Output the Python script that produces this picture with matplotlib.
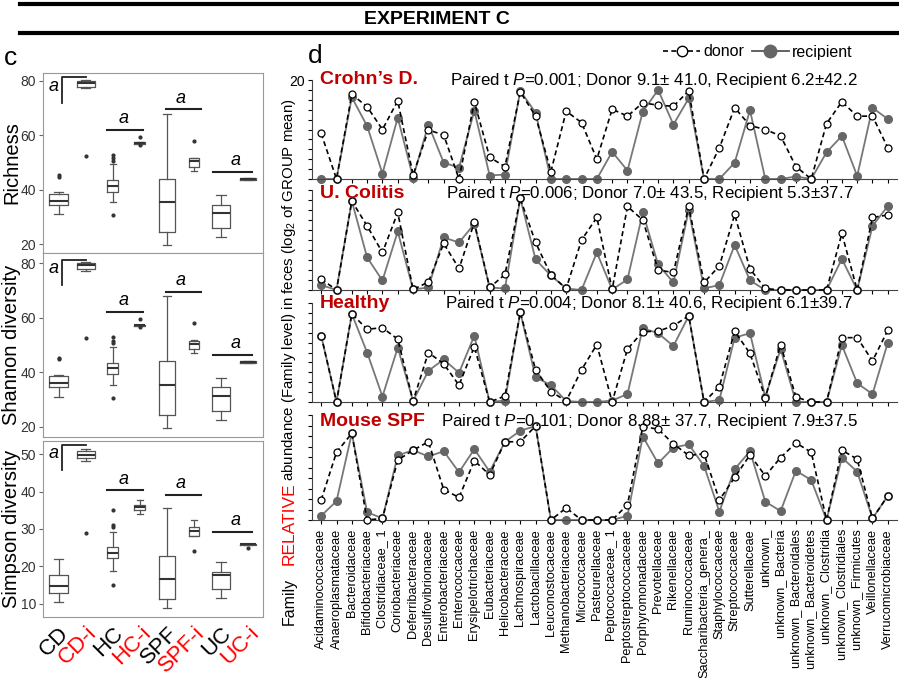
import matplotlib
matplotlib.use("Agg")
import matplotlib.pyplot as plt
from matplotlib.lines import Line2D

plt.rcParams["font.family"] = ["Liberation Sans", "DejaVu Sans"]
plt.rcParams["mathtext.fontset"] = "custom"
plt.rcParams["mathtext.it"] = "Liberation Sans:italic"
plt.rcParams["mathtext.rm"] = "Liberation Sans"

# ---- box plot data (c) ----
groups = ["CD", "CD-i", "HC", "HC-i", "SPF", "SPF-i", "UC", "UC-i"]
group_colors = ["black", "red", "black", "red", "black", "red", "black", "red"]
box_widths = [0.69, 0.66, 0.42, 0.4, 0.6, 0.38, 0.69, 0.58]

rich_lo = [31, 77.2, 35.5, 56.8, 19.5, 47, 22.5, 43.5]
rich_q1 = [34.5, 77.7, 39.3, 56.9, 24.5, 48.5, 26, 43.5]
rich_med = [36, 79.3, 41.5, 57.2, 35.5, 50.5, 31.5, 43.8]
rich_q3 = [38.5, 80, 43.5, 57.4, 44, 51.5, 34.5, 44.1]
rich_hi = [39, 80.4, 49.4, 57.5, 68, 51.8, 38, 44.1]
rich_out = [[44.8, 45.4], [52.5], [30.7, 50.7, 51.6, 52.8], [56.5, 59.5], [], [58], [], []]

simp_lo = [10.5, 48.2, 18.7, 34, 8.8, 28, 11.7, 25.8]
simp_q1 = [13, 49, 22.2, 35.2, 11.4, 28.2, 13.9, 25.8]
simp_med = [14.8, 49.8, 23.7, 35.8, 16.6, 29.5, 17.6, 25.9]
simp_q3 = [17.8, 50.8, 25.3, 36.5, 22.7, 30.6, 18.6, 26]
simp_hi = [22, 51.3, 29.3, 37.7, 35.6, 32.4, 21.3, 26]
simp_out = [[], [29], [15, 30.5, 31.2, 35], [], [], [24], [], [25]]

# significance marks: (CD bracket bottom, CD bracket top, HC line, SPF line, UC line)
rich_sig = [72, 81.3, 62, 69.5, 46.5]
simp_sig = [45.7, 52.5, 40.3, 39.2, 29.3]

# ---- family abundance data (d) ----
families = ["Acidaminococcaceae", "Anaeroplasmataceae", "Bacteroidaceae",
            "Bifidobacteriaceae", "Clostridiaceae_ 1", "Coriobacteriaceae",
            "Deferribacteraceae", "Desulfovibrionaceae", "Enterobacteriaceae",
            "Enterococcaceae", "Erysipelotrichaceae", "Eubacteriaceae",
            "Helicobacteraceae", "Lachnospiraceae", "Lactobacillaceae",
            "Leuconostocaceae", "Methanobacteriaceae", "Micrococcaceae",
            "Pasteurellaceae", "Peptococcaceae_ 1", "Peptostreptococcaceae",
            "Porphyromonadaceae", "Prevotellaceae", "Rikenellaceae",
            "Ruminococcaceae", "Saccharibacteria_genera_", "Staphylococcaceae",
            "Streptococcaceae", "Sutterellaceae", "unknown_",
            "unknown_ Bacteria", "unknown_ Bacteroidales", "unknown_ Bacteroidetes",
            "unknown_ Clostridia", "unknown_ Clostridiales", "unknown_ Firmicutes",
            "Veillonellaceae", "Verrucomicrobiaceae"]

cd_donor = [9.2, 0, 17.1, 14.6, 10.0, 15.8, 0.8, 9.9, 8.9, 0, 15.6, 4.4, 2.5, 17.6, 12.7, 1.5, 13.7, 11.4,
            4.0, 14.1, 12.7, 15.4, 14.9, 14.7, 17.8, 0, 6.3, 14.4, 10.8, 10.0, 8.7, 2.5, 0, 11.2, 15.6, 12.7, 12.7, 6.3]
cd_recip = [0, 0, 16.5, 10.7, 1.1, 12.4, 0.3, 11.0, 3.3, 2.3, 13.8, 0.7, 0.9, 17.8, 13.4, 0, 0, 0,
            0, 5.5, 1.7, 13.6, 18.0, 11.0, 16.3, 0, 0, 3.3, 13.9, 0, 0, 0.5, 0, 5.4, 8.7, 0.6, 14.4, 12.1]
uc_donor = [2.2, 0, 17.8, 12.8, 7.5, 15.5, 0.1, 1.6, 9.3, 4.3, 13.5, 0.5, 3.1, 18.3, 9.5, 3.0, 0.3, 10.0,
            14.5, 0.1, 16.7, 14.0, 4.0, 3.5, 16.7, 1.5, 4.8, 15.1, 4.2, 0.3, 0, 0, 0, 0, 11.3, 0, 14.5, 15.0]
uc_recip = [1.0, 0, 17.8, 6.5, 1.9, 11.7, 0.1, 0.5, 10.5, 9.5, 13.2, 0.5, 0.3, 18.3, 6.1, 2.9, 0.3, 0,
            7.5, 0.1, 2.1, 15.5, 5.1, 1.5, 16.0, 0.3, 1.0, 9.0, 1.9, 0, 0, 0, 0, 0, 6.2, 0, 12.8, 16.8]
hc_donor = [13.4, 0, 17.8, 14.7, 15.0, 12.7, 0.2, 10.0, 7.7, 3.4, 11.2, 0, 1.2, 18.1, 6.5, 2.1, 0.2, 6.5,
            11.6, 0, 10.7, 14.2, 14.3, 15.4, 17.4, 0, 3.1, 14.3, 9.8, 0.9, 11.6, 1.0, 0, 0, 13.0, 13.0, 8.3, 14.5]
hc_recip = [13.4, 0, 17.8, 10.0, 1.1, 11.0, 0.2, 6.3, 8.6, 5.9, 13.4, 0, 0.3, 18.1, 5.0, 3.4, 0.2, 0,
            0, 0.3, 1.6, 14.9, 13.9, 11.3, 17.4, 0, 0.4, 13.0, 13.9, 1.0, 10.7, 0, 0, 0, 11.5, 3.8, 1.6, 12.0]
spf_donor = [3.8, 12.9, 16.5, 0, 0.3, 11.4, 13.3, 14.9, 5.8, 4.3, 11.3, 8.6, 14.9, 14.9, 17.9, 0, 2.3, 0,
             0, 0, 2.9, 17.8, 17.3, 14.5, 12.3, 12.6, 3.8, 8.1, 12.4, 8.4, 11.9, 14.7, 12.9, 0, 13.3, 11.6, 0.3, 4.6]
spf_recip = [0.8, 3.6, 16.5, 1.5, 0.3, 12.3, 13.3, 12.1, 13.1, 9.1, 13.5, 9.2, 14.9, 17.0, 17.9, 0, 0, 0,
             0, 0, 0.8, 15.9, 10.8, 13.8, 14.4, 10.3, 1.6, 9.7, 13.1, 3.5, 1.7, 9.4, 7.6, 0, 11.9, 9.2, 0.3, 4.6]

panel_names = ["Crohn\u2019s D.", "U. Colitis", "Healthy", "Mouse SPF"]
panel_stats = [
    r"Paired t $\it{P}$=0.001; Donor 9.1$\pm$ 41.0, Recipient 6.2$\pm$42.2",
    r"Paired t $\it{P}$=0.006; Donor 7.0$\pm$ 43.5, Recipient 5.3$\pm$37.7",
    r"Paired t $\it{P}$=0.004; Donor 8.1$\pm$ 40.6, Recipient 6.1$\pm$39.7",
    r"Paired t $\it{P}$=0.101; Donor 8.88$\pm$ 37.7, Recipient 7.9$\pm$37.5",
]
donors = [cd_donor, uc_donor, hc_donor, spf_donor]
recips = [cd_recip, uc_recip, hc_recip, spf_recip]

W, H = 899, 678
fig = plt.figure(figsize=(W / 100, H / 100), dpi=100)


def fx(px):
    return px / W


def fy(py):
    return 1 - py / H


# header
fig.add_artist(Line2D([fx(20), 1], [fy(4), fy(4)], color="black", lw=3))
fig.add_artist(Line2D([fx(20), 1], [fy(33), fy(33)], color="black", lw=3))
fig.text(fx(437), fy(20), "EXPERIMENT C", ha="center", va="center",
         fontsize=14, fontweight="bold")
fig.text(fx(4), fy(58), "c", ha="left", va="center", fontsize=19)
fig.text(fx(308), fy(56), "d", ha="left", va="center", fontsize=19)


def make_stats(lo, q1, med, q3, hi, out):
    stats = []
    for i in range(len(lo)):
        stats.append(dict(whislo=lo[i], q1=q1[i], med=med[i], q3=q3[i],
                          whishi=hi[i], fliers=out[i]))
    return stats


def box_panel(rect, stats, ylim, yticks, ylabel, sig, show_x):
    ax = fig.add_axes(rect)
    ax.bxp(stats, positions=range(1, 9), widths=box_widths, showfliers=True,
           boxprops=dict(color="#555555", lw=0.9),
           whiskerprops=dict(color="#555555", lw=0.9),
           capprops=dict(color="#555555", lw=0.9),
           medianprops=dict(color="#333333", lw=1.5),
           flierprops=dict(marker="o", markersize=2, markerfacecolor="#333333",
                           markeredgecolor="#333333"))
    ax.set_xlim(0.42, 8.55)
    ax.set_ylim(*ylim)
    ax.set_yticks(yticks)
    ax.tick_params(axis="y", labelsize=10, labelcolor="#333333", length=3,
                   color="#666666", pad=2)
    ax.set_ylabel(ylabel, fontsize=14.5)
    ax.yaxis.set_label_coords(-0.1, 0.5)
    for s in ax.spines.values():
        s.set_color("#999999")
    # significance marks
    ax.plot([1.12, 1.12, 2.01], [sig[0], sig[1], sig[1]], color="#222222", lw=1.3)
    ax.text(0.8, sig[1] - (sig[1] - sig[0]) * 0.35, "a", style="italic",
            fontsize=13, ha="center", va="center")
    span = ylim[1] - ylim[0]
    for (x0, x1, xa), yv in zip([(2.79, 4.12, 3.38), (4.95, 6.25, 5.5), (6.7, 8.14, 7.55)], sig[2:]):
        ax.plot([x0, x1], [yv, yv], color="#222222", lw=1.5)
        ax.text(xa, yv + span * 0.015, "a", style="italic", fontsize=13,
                ha="center", va="bottom")
    if show_x:
        ax.set_xticks(range(1, 9))
        ax.set_xticklabels(groups, rotation=45, ha="right", rotation_mode="anchor",
                           fontsize=16)
        for lab, c in zip(ax.get_xticklabels(), group_colors):
            lab.set_color(c)
        ax.tick_params(axis="x", length=0, pad=4)
    else:
        ax.set_xticks([])
    return ax


rich_stats = make_stats(rich_lo, rich_q1, rich_med, rich_q3, rich_hi, rich_out)
simp_stats = make_stats(simp_lo, simp_q1, simp_med, simp_q3, simp_hi, simp_out)

box_panel([fx(43), fy(253), fx(220), 180 / H], rich_stats, (16.7, 82.9),
          [20, 40, 60, 80], "Richness", rich_sig, False)
box_panel([fx(43), fy(437), fx(220), 184 / H], rich_stats, (16.3, 83.7),
          [20, 40, 60, 80], "Shannon diversity", rich_sig, False)
box_panel([fx(43), fy(617), fx(220), 176 / H], simp_stats, (6.5, 53.5),
          [10, 20, 30, 40, 50], "Simpson diversity", simp_sig, True)

# ---- line panels ----
panel_px = [(80, 179), (190, 290), (303, 402), (415, 520)]
name_y = [1.0, 0.96, 0.99, 0.94]
stat_x = [450, 446, 445, 441]
x = list(range(len(families)))
for k in range(4):
    top, bot = panel_px[k]
    ax = fig.add_axes([fx(312), fy(bot), fx(585), (bot - top) / H])
    ax.plot(x, donors[k], ls=(0, (3, 2)), color="black", lw=1.2, marker="o",
            markersize=5, markerfacecolor="white", markeredgecolor="black",
            markeredgewidth=0.9, clip_on=False, zorder=3)
    ax.plot(x, recips[k], ls="-", color="#777777", lw=1.3, marker="o",
            markersize=5.5, markerfacecolor="#666666", markeredgecolor="#666666",
            clip_on=False, zorder=2)
    ax.set_xlim(-0.6, 37.6)
    ax.set_ylim(0, 20)
    ax.set_yticks(range(0, 21, 2))
    ax.set_yticklabels(["20" if (v == 20 and k == 0) else "" for v in range(0, 21, 2)])
    ax.tick_params(axis="y", length=3, labelsize=10, pad=2)
    ax.set_xticks(x)
    ax.tick_params(axis="x", length=3)
    for s in ["top", "right"]:
        ax.spines[s].set_visible(False)
    for s in ["left", "bottom"]:
        ax.spines[s].set_color("#444444")
    if k == 3:
        ax.set_xticklabels(families, rotation=90, fontsize=9.2, va="top")
    else:
        ax.set_xticklabels([])
    ax.text(0.014, name_y[k], panel_names[k], transform=ax.transAxes,
            fontsize=14, fontweight="bold", color="#c00000", ha="left", va="center")
    ax.text((stat_x[k] - 312) / 585, name_y[k], panel_stats[k], transform=ax.transAxes,
            fontsize=12.2, ha="left", va="center")

# vertical y label built from coloured pieces
fig.text(fx(289), fy(601), "Family", rotation=90, ha="center", va="center", fontsize=11.5)
fig.text(fx(289), fy(524), "RELATIVE", rotation=90, ha="center", va="center",
         fontsize=12.5, color="red")
fig.text(fx(289), fy(290), r"abundance (Family level) in feces (log$_2$ of GROUP mean)",
         rotation=90, ha="center", va="center", fontsize=10.8)

# legend
handles = [
    Line2D([], [], ls=(0, (3, 2)), color="black", lw=1.2, marker="o", markersize=7.5,
           markerfacecolor="white", markeredgecolor="black"),
    Line2D([], [], ls="-", color="#555555", lw=1.3, marker="o", markersize=9,
           markerfacecolor="#666666", markeredgecolor="#666666"),
]
fig.legend(handles, ["donor", "recipient"], loc="center", ncol=2,
           bbox_to_anchor=(fx(758), fy(52)), frameon=False, fontsize=11.5,
           handlelength=2.3, handletextpad=0.2, columnspacing=0.5)

fig.savefig("out.png", dpi=100)
